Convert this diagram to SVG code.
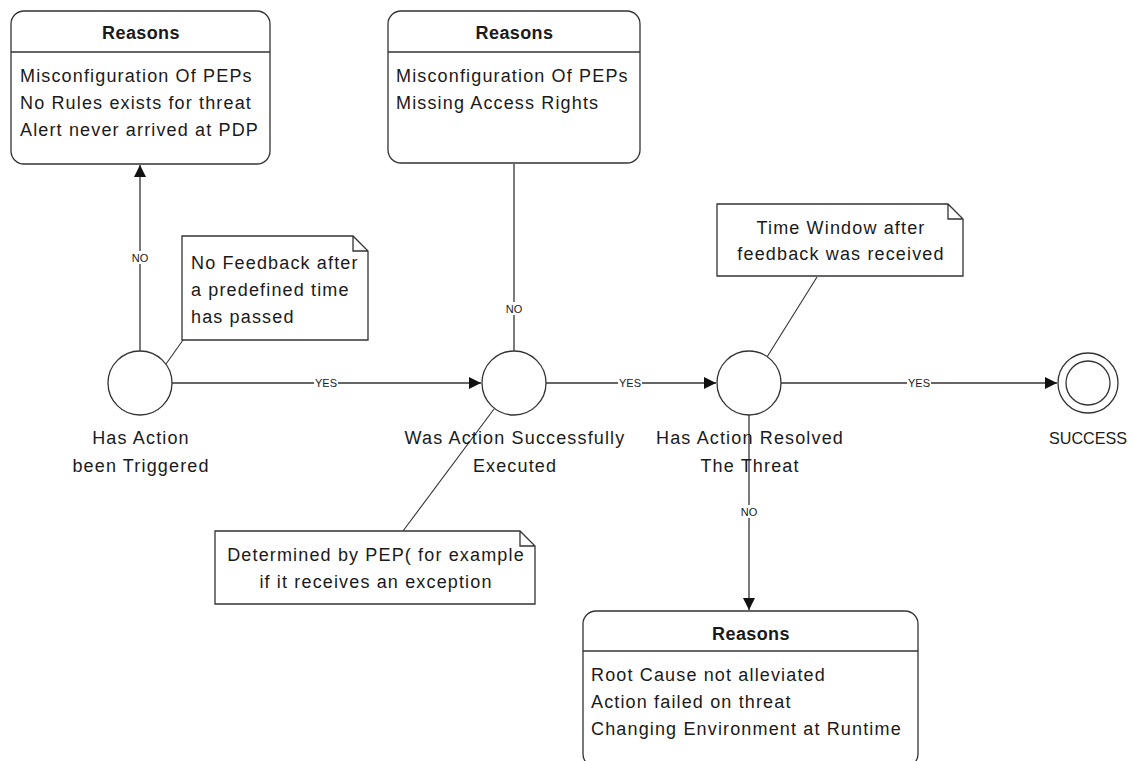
<svg xmlns="http://www.w3.org/2000/svg" width="1134" height="761" viewBox="0 0 1134 761">
  <defs>
    <marker id="arrow" viewBox="0 0 12 12" refX="12" refY="6" markerWidth="12" markerHeight="12" markerUnits="userSpaceOnUse" orient="auto">
      <path d="M0,0 L12,6 L0,12 Z" fill="#111"/>
    </marker>
    <style>
      .box { fill: #fff; stroke: #333; stroke-width: 1.3; }
      .sep { stroke: #333; stroke-width: 1.3; }
      .state { fill: #fff; stroke: #333; stroke-width: 1.3; }
      .note { fill: #fff; stroke: #333; stroke-width: 1.3; }
      .edge { fill: none; stroke: #333; stroke-width: 1.3; }
      .link { fill: none; stroke: #333; stroke-width: 1.1; }
      text { font-family: "Liberation Sans", Arial, sans-serif; fill: #1a1a1a; }
      .title { font-size: 18px; font-weight: bold; text-anchor: middle; letter-spacing: 0.4px; }
      .body { font-size: 18px; letter-spacing: 1.15px; }
      .mid { text-anchor: middle; }
      .tag { font-size: 11px; text-anchor: middle; }
      .tagbg { fill: #fff; }
    </style>
  </defs>

  <!-- transitions -->
  <g id="connectors">
    <line class="edge" x1="140" y1="351" x2="140" y2="165" marker-end="url(#arrow)"/>
    <line class="edge" x1="514" y1="351" x2="514" y2="164"/>
    <line class="edge" x1="749" y1="415" x2="749" y2="610" marker-end="url(#arrow)"/>
    <line class="edge" x1="172" y1="383" x2="481" y2="383" marker-end="url(#arrow)"/>
    <line class="edge" x1="546" y1="383" x2="716" y2="383" marker-end="url(#arrow)"/>
    <line class="edge" x1="781" y1="383" x2="1057" y2="383" marker-end="url(#arrow)"/>
    <!-- note anchors -->
    <line class="link" x1="166" y1="364" x2="183" y2="340"/>
    <line class="link" x1="767" y1="357" x2="817" y2="277"/>
    <line class="link" x1="494" y1="409" x2="403" y2="531"/>
    <!-- edge labels -->
    <rect class="tagbg" x="130" y="251" width="20" height="13"/>
    <text class="tag" x="140" y="262">NO</text>
    <rect class="tagbg" x="504" y="302" width="20" height="13"/>
    <text class="tag" x="514" y="313">NO</text>
    <rect class="tagbg" x="739" y="505" width="20" height="13"/>
    <text class="tag" x="749" y="516">NO</text>
    <rect class="tagbg" x="314" y="377" width="24" height="12"/>
    <text class="tag" x="326" y="387">YES</text>
    <rect class="tagbg" x="618" y="377" width="24" height="12"/>
    <text class="tag" x="630" y="387">YES</text>
    <rect class="tagbg" x="907" y="377" width="24" height="12"/>
    <text class="tag" x="919" y="387">YES</text>
  </g>

  <g id="reasons-triggered">
    <rect class="box" x="11" y="11" width="259" height="153" rx="13"/>
    <line class="sep" x1="11" y1="52" x2="270" y2="52"/>
    <text class="title" x="141" y="38.5">Reasons</text>
    <text class="body" x="20" y="81.5">Misconfiguration Of PEPs</text>
    <text class="body" x="20" y="108.5">No Rules exists for threat</text>
    <text class="body" x="20" y="135.5">Alert never arrived at PDP</text>
  </g>

  <g id="reasons-executed">
    <rect class="box" x="388" y="11" width="252" height="152" rx="13"/>
    <line class="sep" x1="388" y1="52" x2="640" y2="52"/>
    <text class="title" x="514.5" y="38.5">Reasons</text>
    <text class="body" x="396" y="81.5">Misconfiguration Of PEPs</text>
    <text class="body" x="396" y="108.5">Missing Access Rights</text>
  </g>

  <g id="reasons-resolved">
    <rect class="box" x="583" y="611" width="335" height="156" rx="13"/>
    <line class="sep" x1="583" y1="651" x2="918" y2="651"/>
    <text class="title" x="751" y="639.5">Reasons</text>
    <text class="body" x="591" y="680.5">Root Cause not alleviated</text>
    <text class="body" x="591" y="707.5">Action failed on threat</text>
    <text class="body" x="591" y="734.5">Changing Environment at Runtime</text>
  </g>

  <g id="has-action-been-triggered">
    <circle class="state" cx="140" cy="383" r="32"/>
    <text class="body mid" x="141" y="443.5">Has Action</text>
    <text class="body mid" x="141" y="471.5">been Triggered</text>
  </g>

  <g id="was-action-executed">
    <circle class="state" cx="514" cy="383" r="32"/>
    <text class="body mid" x="515" y="443.5">Was Action Successfully</text>
    <text class="body mid" x="515" y="471.5">Executed</text>
  </g>

  <g id="has-action-resolved">
    <circle class="state" cx="749" cy="383" r="32"/>
    <text class="body mid" x="750" y="443.5">Has Action Resolved</text>
    <text class="body mid" x="750" y="471.5">The Threat</text>
  </g>

  <g id="success">
    <circle class="state" cx="1088" cy="383" r="30"/>
    <circle class="state" cx="1088" cy="383" r="22"/>
    <text x="1049" y="443.5" font-size="17" textLength="78" lengthAdjust="spacingAndGlyphs">SUCCESS</text>
  </g>

  <g id="note-feedback">
    <path class="note" d="M182,236 H353 L368,251 V340 H182 Z M353,236 V251 H368"/>
    <text class="body" x="191" y="268.5">No Feedback after</text>
    <text class="body" x="191" y="295.5">a predefined time</text>
    <text class="body" x="191" y="322.5">has passed</text>
  </g>

  <g id="note-time-window">
    <path class="note" d="M717,204 H948 L963,219 V276 H717 Z M948,204 V219 H963"/>
    <text class="body mid" x="841" y="233.5">Time Window after</text>
    <text class="body mid" x="841" y="259.5">feedback was received</text>
  </g>

  <g id="note-pep">
    <path class="note" d="M215,531 H520 L535,546 V604 H215 Z M520,531 V546 H535"/>
    <text class="body mid" x="376" y="560.5">Determined by PEP( for example</text>
    <text class="body mid" x="376" y="587.5">if it receives an exception</text>
  </g>
</svg>
